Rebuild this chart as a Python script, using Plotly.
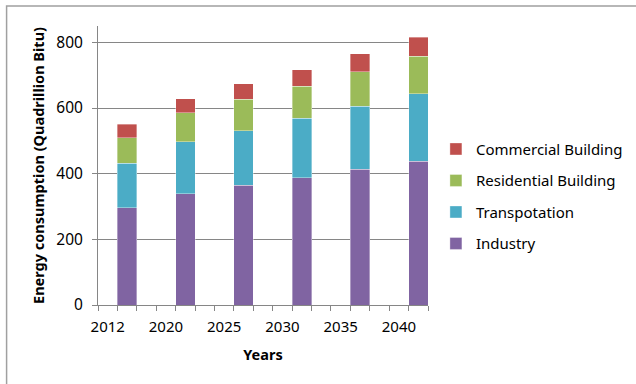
import plotly.graph_objects as go

years = ["2012", "2020", "2025", "2030", "2035", "2040"]
industry = [296, 339, 365, 388, 414, 438]
transport_top = [432, 498, 531, 569, 606, 643]
residential_top = [509, 585, 627, 667, 710, 758]
commercial_top = [550, 629, 674, 717, 765, 815]

transport = [t - i for t, i in zip(transport_top, industry)]
residential = [r - t for r, t in zip(residential_top, transport_top)]
commercial = [c - r for c, r in zip(commercial_top, residential_top)]

series = [
    ("Industry", industry, "#8064A2"),
    ("Transpotation", transport, "#4BACC6"),
    ("Residential Building", residential, "#9BBB59"),
    ("Commercial Building", commercial, "#C0504D"),
]

# Excel-like category layout: 17 slots, labels every 3rd slot, bars one slot to the right
label_pos = [3 * i for i in range(len(years))]
bar_pos = [3 * i + 1 for i in range(len(years))]

fig = go.Figure()
n = len(series)
for k, (name, vals, color) in enumerate(series):
    fig.add_trace(go.Bar(
        x=bar_pos, y=vals, name=name, width=1.0,
        marker=dict(color=color, line=dict(color="rgba(255,255,255,0.6)", width=0.6)),
        legendgroup=name, legendrank=n - k,
    ))

grey = "#868686"
font = "Noto Sans"
fig.update_layout(
    barmode="stack",
    width=636, height=384,
    margin=dict(l=98, r=208, t=26, b=79, autoexpand=False),
    paper_bgcolor="white", plot_bgcolor="white",
    font=dict(family=font, size=15, color="#000000"),
    showlegend=True,
    legend=dict(
        x=1.024, xanchor="left", y=0.39, yanchor="middle",
        traceorder="grouped", tracegroupgap=9,
        font=dict(family=font, size=15, color="#000000"),
        itemwidth=30,
    ),
    xaxis=dict(
        range=[-0.5, 16.5], tickmode="array", tickvals=label_pos, ticktext=years,
        showline=True, linecolor=grey, linewidth=1, showgrid=False, zeroline=False,
        ticks="", tickfont=dict(family=font, size=15), ticklabelstandoff=8,
        minor=dict(ticks="outside", tick0=-0.5, dtick=1, ticklen=5, tickcolor=grey, showgrid=False),
        title=dict(text="<b>Years</b>", font=dict(family=font, size=14.5), standoff=14),
    ),
    yaxis=dict(
        range=[0, 850], tickmode="array", tickvals=[0, 200, 400, 600, 800],
        showline=True, linecolor=grey, linewidth=1,
        showgrid=True, gridcolor=grey, gridwidth=1, zeroline=False,
        ticks="outside", ticklen=5, tickcolor=grey,
        tickfont=dict(family=font, size=15.5), ticklabelstandoff=6,
        title=dict(text="<b>Energy consumption (Quadrillion Bitu)</b>", font=dict(family=font, size=14.5), standoff=8),
    ),
    shapes=[dict(type="rect", xref="paper", yref="paper",
                 x0=-0.277, x1=1.645, y0=-0.35, y1=1.0717,
                 line=dict(color="#a0a0a0", width=1.5), fillcolor="rgba(0,0,0,0)", layer="below")],
)

fig.write_html("out.html")
